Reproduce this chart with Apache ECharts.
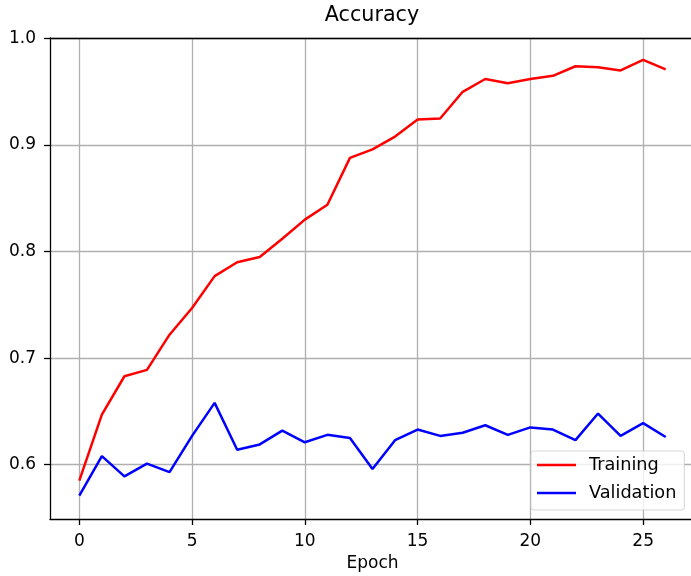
<!DOCTYPE html>
<html>
<head>
<meta charset="utf-8">
<script src="https://cdn.jsdelivr.net/npm/echarts@6/dist/echarts.min.js"></script>
<style>html,body{margin:0;padding:0;background:#fff}#c{width:691px;height:576px}</style>
</head>
<body>
<div id="c"></div>
<script>
const epochs = [0,1,2,3,4,5,6,7,8,9,10,11,12,13,14,15,16,17,18,19,20,21,22,23,24,25,26];
const training = [0.585,0.647,0.683,0.689,0.722,0.747,0.777,0.790,0.795,0.812,0.830,0.844,0.888,0.896,0.908,0.924,0.925,0.950,0.962,0.958,0.962,0.965,0.974,0.973,0.970,0.980,0.971];
const validation = [0.571,0.608,0.589,0.601,0.593,0.627,0.658,0.614,0.619,0.632,0.621,0.628,0.625,0.596,0.623,0.633,0.627,0.630,0.637,0.628,0.635,0.633,0.623,0.648,0.627,0.639,0.626];
const xTicks = [0,5,10,15,20,25];
const yTicks = [0.6,0.7,0.8,0.9,1.0];
const seriesNames = ['Training','Validation'];

const chart = echarts.init(document.getElementById('c'), null, {renderer:'canvas'});
const font = 'DejaVu Sans';
chart.setOption({
  backgroundColor:'#fff',
  animation:false,
  textStyle:{fontFamily:font},
  title:{text:'Accuracy', left:372, top:5, textAlign:'center', padding:0,
    textStyle:{fontFamily:font, fontSize:20.7, fontWeight:'normal', color:'#000'}},
  grid:{left:50, top:38, width:645, height:481, outerBoundsMode:'none', containLabel:false, show:false},
  legend:{orient:'vertical', left:531, top:451, data:seriesNames, icon:'rect', itemWidth:39, itemHeight:2.5,
    itemGap:10, padding:[5,8,8,6], backgroundColor:'rgba(255,255,255,0.8)', borderColor:'rgba(204,204,204,0.8)', borderWidth:1, borderRadius:3,
    textStyle:{fontFamily:font, fontSize:17.7, color:'#000', padding:[0,0,0,8], lineHeight:18}},
  xAxis:[{type:'value', min:-1.3, max:27.3, position:'bottom',
    name:'Epoch', nameLocation:'middle', nameGap:36, nameTextStyle:{fontFamily:font, fontSize:17, color:'#000'},
    axisLine:{show:true, onZero:false, lineStyle:{color:'#000', width:1.3}},
    axisTick:{show:true, length:6, lineStyle:{color:'#000', width:1.3}, customValues:xTicks},
    axisLabel:{customValues:xTicks, margin:14, fontFamily:font, fontSize:17, color:'#000'},
    splitLine:{show:true, lineStyle:{color:'#b0b0b0', width:1.3}}},
   {type:'value', min:-1.3, max:27.3, position:'top',
    axisLine:{show:true, onZero:false, lineStyle:{color:'#000', width:1.3}},
    axisTick:{show:false}, axisLabel:{show:false}, splitLine:{show:false}}],
  yAxis:{type:'value', min:0.549, max:1.0005,
    axisLine:{show:true, onZero:false, lineStyle:{color:'#000', width:1.3}},
    axisTick:{show:true, length:6, lineStyle:{color:'#000', width:1.3}, customValues:yTicks},
    axisLabel:{customValues:yTicks, margin:14, fontFamily:font, fontSize:17, color:'#000', formatter:v=>v.toFixed(1)},
    splitLine:{show:true, lineStyle:{color:'#b0b0b0', width:1.3}}},
  series:[
    {name:seriesNames[0], type:'line', symbol:'none', data:epochs.map((e,i)=>[e,training[i]]), lineStyle:{color:'#ff0000', width:2.5}, itemStyle:{color:'#ff0000'}},
    {name:seriesNames[1], type:'line', symbol:'none', data:epochs.map((e,i)=>[e,validation[i]]), lineStyle:{color:'#0000ff', width:2.5}, itemStyle:{color:'#0000ff'}}
  ]
});
</script>
</body>
</html>
